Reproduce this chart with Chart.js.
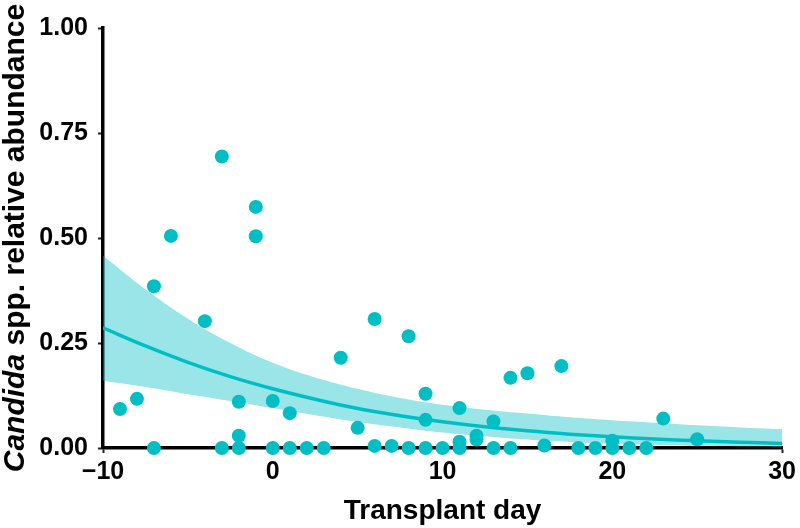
<!DOCTYPE html>
<html>
<head>
<meta charset="utf-8">
<script src="https://cdn.jsdelivr.net/npm/chart.js@4/dist/chart.umd.min.js"></script>
<style>
  html, body { margin: 0; padding: 0; background: #fff; }
  #wrap { width: 800px; height: 528px; }
</style>
</head>
<body>
<div id="wrap"><canvas id="myChart" width="800" height="528"></canvas></div>
<script>
// Observed samples
const sampleDays = [-9, -8, -7, -7, -6, -4, -3, -3, -2, -2, -2, -1, -1, 0, 0, 1, 1, 2, 3, 4,
    5, 6, 6, 7, 8, 8, 9, 9, 9, 10, 11, 11, 11, 12, 12, 13, 13, 14, 14, 15,
    16, 17, 18, 19, 20, 20, 21, 22, 23, 25];
const sampleAbundance = [0.093, 0.117, 0, 0.385, 0.505, 0.302, 0.694, 0, 0.11, 0.029, 0, 0.574, 0.504, 0.112, 0, 0.083, 0, 0, 0, 0.215,
    0.048, 0.307, 0.005, 0.005, 0.266, 0, 0.129, 0.067, 0, 0, 0.095, 0.015, 0, 0.029, 0.02, 0.063, 0, 0.167, 0, 0.178,
    0.006, 0.195, 0, 0, 0.017, 0, 0, 0, 0.07, 0.021];

// Fitted curve and its confidence band
const fitDays = [-10, -7.5, -5, -2.5, 0, 2.5, 5, 7.5, 10, 12.5, 15, 17.5, 20, 22.5, 25, 27.5, 30];
const fitMean = [0.286, 0.243, 0.204, 0.170, 0.141, 0.116, 0.094, 0.077, 0.0625, 0.0505, 0.0408, 0.0329, 0.0265, 0.0212, 0.0171, 0.0137, 0.011];
const fitUpper = [0.458, 0.378, 0.308, 0.250, 0.203, 0.168, 0.141, 0.119, 0.103, 0.091, 0.082, 0.073, 0.066, 0.060, 0.054, 0.049, 0.045];
const fitLower = [0.160, 0.145, 0.128, 0.112, 0.095, 0.078, 0.062, 0.049, 0.037, 0.028, 0.020, 0.0144, 0.0103, 0.0074, 0.0052, 0.0037, 0.0026];

const xTicks = [-10, 0, 10, 20, 30];
const yTicks = [0, 0.25, 0.5, 0.75, 1];

const teal = '#00BFC4';
const bandFill = 'rgba(0, 191, 196, 0.4)';
const fontFamily = '"Liberation Sans", Arial, sans-serif';

function toPoints(xs, ys) {
    return xs.map((x, i) => ({ x: x, y: ys[i] }));
}

// y axis title with italic genus name
const yTitlePlugin = {
    id: 'yTitle',
    afterDraw(chart) {
        const ctx = chart.ctx;
        const size = 30;
        const italicPart = 'Candida';
        const plainPart = ' spp. relative abundance';
        ctx.save();
        ctx.font = `italic bold ${size}px ${fontFamily}`;
        const w1 = ctx.measureText(italicPart).width;
        ctx.font = `bold ${size}px ${fontFamily}`;
        const w2 = ctx.measureText(plainPart).width;
        const centerY = (chart.chartArea.top + chart.chartArea.bottom) / 2;
        ctx.translate(24, centerY + (w1 + w2) / 2);
        ctx.rotate(-Math.PI / 2);
        ctx.fillStyle = '#000';
        ctx.textBaseline = 'alphabetic';
        ctx.textAlign = 'left';
        ctx.font = `italic bold ${size}px ${fontFamily}`;
        ctx.fillText(italicPart, 0, 0);
        ctx.font = `bold ${size}px ${fontFamily}`;
        ctx.fillText(plainPart, w1, 0);
        ctx.restore();
    }
};

const ctx = document.getElementById('myChart');

new Chart(ctx, {
    type: 'line',
    data: {
        datasets: [
            {
                type: 'scatter',
                data: toPoints(sampleDays, sampleAbundance),
                backgroundColor: teal,
                borderColor: teal,
                borderWidth: 0,
                pointRadius: 7,
                pointHoverRadius: 7,
                clip: false,
                order: 0
            },
            {
                data: toPoints(fitDays, fitMean),
                borderColor: teal,
                borderWidth: 3.5,
                pointRadius: 0,
                tension: 0.4,
                fill: false,
                order: 1
            },
            {
                data: toPoints(fitDays, fitUpper),
                borderWidth: 0,
                borderColor: 'rgba(0,0,0,0)',
                backgroundColor: bandFill,
                pointRadius: 0,
                tension: 0.4,
                fill: '+1',
                order: 2
            },
            {
                data: toPoints(fitDays, fitLower),
                borderWidth: 0,
                borderColor: 'rgba(0,0,0,0)',
                pointRadius: 0,
                tension: 0.4,
                fill: false,
                order: 3
            }
        ]
    },
    options: {
        responsive: false,
        animation: false,
        layout: { padding: { left: 0, right: 16, top: 28, bottom: 0 } },
        plugins: {
            legend: { display: false },
            tooltip: { enabled: false }
        },
        scales: {
            x: {
                type: 'linear',
                min: -10,
                max: 30,
                z: 1,
                afterBuildTicks: (scale) => { scale.ticks = xTicks.map(v => ({ value: v })); },
                afterFit: (scale) => { scale.height = 80; },
                grid: { drawOnChartArea: false, drawTicks: true, tickLength: 5, tickColor: '#222', tickWidth: 2 },
                border: { display: true, color: '#000', width: 3.5 },
                ticks: {
                    color: '#000',
                    padding: 4,
                    maxRotation: 0,
                    font: { family: fontFamily, size: 25, weight: 'bold' },
                    callback: (value) => String(value).replace('-', '\u2212')
                },
                title: {
                    display: true,
                    text: 'Transplant day',
                    color: '#000',
                    padding: { top: 0, bottom: 0 },
                    font: { family: fontFamily, size: 28, weight: 'bold' }
                }
            },
            y: {
                min: 0,
                max: 1,
                z: 1,
                afterBuildTicks: (scale) => { scale.ticks = yTicks.map(v => ({ value: v })); },
                afterFit: (scale) => { scale.width = 103; },
                grid: { drawOnChartArea: false, drawTicks: true, tickLength: 5, tickColor: '#222', tickWidth: 2 },
                border: { display: true, color: '#000', width: 3.5 },
                ticks: {
                    color: '#000',
                    padding: 10,
                    font: { family: fontFamily, size: 25, weight: 'bold' },
                    callback: (value) => value.toFixed(2)
                }
            }
        }
    },
    plugins: [yTitlePlugin]
});
</script>
</body>
</html>
